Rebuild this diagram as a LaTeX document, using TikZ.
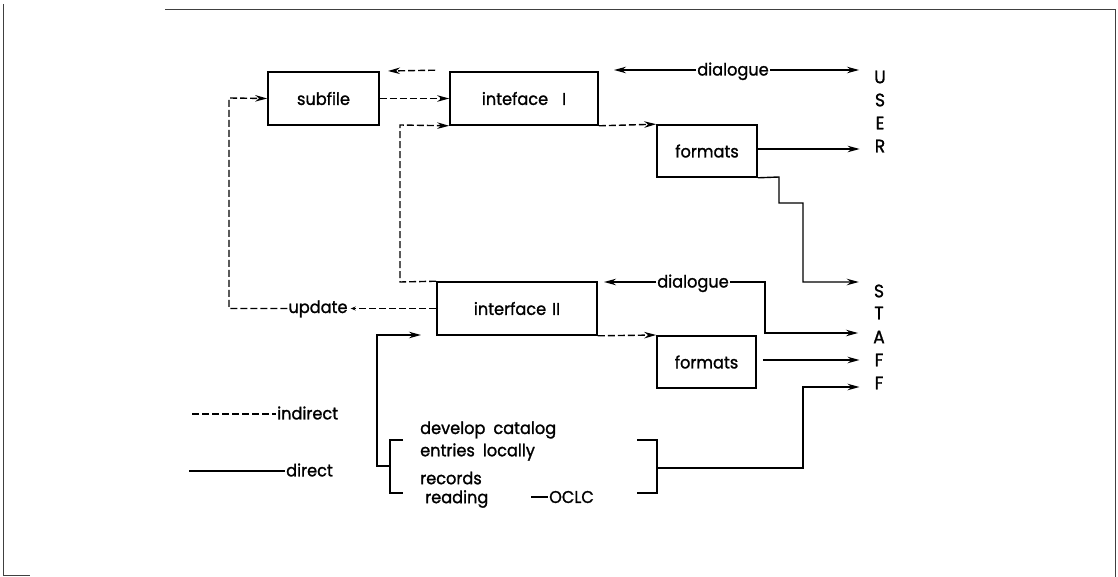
\documentclass[tikz,border=0pt]{standalone}
\usepackage{fontspec}
\setmainfont[FakeStretch=0.95,FakeBold=1.3]{Poppins}
\usetikzlibrary{arrows.meta}
\begin{document}
\begin{tikzpicture}[x=1pt,y=-1pt,
  font=\fontsize{17}{19}\selectfont,
  box/.style={draw,line width=1.6pt,minimum width=#1,minimum height=53pt,inner sep=0pt},
  lbl/.style={inner sep=1pt},
  letter/.style={inner sep=0pt,font=\fontsize{18}{19}\selectfont},
  dir/.style={line width=1.4pt},
  ind/.style={line width=1.4pt,dash pattern=on 7pt off 3pt},
  tip/.style={-{Stealth[length=12pt,width=6.5pt]}},
  frame/.style={line width=1pt,black!75}]
\useasboundingbox (0,0) rectangle (1118,577);
% frame
\draw[frame] (165,10) -- (1115,10) -- (1115,577);
\draw[frame] (3,4) -- (3,575) -- (30,575);
% boxes
\node[box=111pt] (subfile) at (323.5,98.5) {subfile};
\node[box=148pt] (ifI) at (524,98.5) {inteface\hspace{14pt}I};
\node[box=100pt,minimum height=52pt] (fmtA) at (707,151) {formats};
\node[box=160pt] (ifII) at (517,308.5) {interface\hspace{6pt}II};
\node[box=99pt,minimum height=52pt] (fmtB) at (706.5,362) {formats};
% USER / STAFF
\node[letter] (U) at (880,77) {U};
\node[letter] (S1) at (880,100) {S};
\node[letter] (E) at (880,123) {E};
\node[letter] (R) at (880,146) {R};
\node[letter] (S2) at (879,291) {S};
\node[letter] (T) at (879,313) {T};
\node[letter] (A) at (879,337) {A};
\node[letter] (F1) at (879,360) {F};
\node[letter] (F2) at (879,383) {F};
% dialogue labels
\node[lbl,anchor=base] (dlgA) at (733,75.5) {dialogue};
\node[lbl,anchor=base] (dlgB) at (693,287.5) {dialogue};
\node[lbl,anchor=base] (upd) at (318,313) {update};
% bracket text
\node[lbl,anchor=west] (dev) at (419,430) {develop\hspace{8pt}catalog};
\node[lbl,anchor=west] (ent) at (419,452) {entries\hspace{8pt}locally};
\node[lbl,anchor=west] (rec) at (419,478) {records};
\node[lbl,anchor=west] (rea) at (424,499) {reading};
\node[lbl,anchor=west] (oclc) at (548,497) {OCLC};
\coordinate (dashL) at (531,497);
\draw[dir] (dashL) -- (oclc.west);
% brackets
\coordinate (lbT) at (403,440);
\coordinate (lbB) at (403,493);
\coordinate (lbM) at (390,466);
\draw[dir] (lbT) -- (390,440) -- (390,493) -- (lbB);
\coordinate (rbT) at (637,440);
\coordinate (rbB) at (637,493);
\coordinate (rbM) at (657,468);
\draw[dir] (rbT) -- (657,440) -- (657,493) -- (rbB);
% legend
\coordinate (legI) at (192,414);
\node[lbl,anchor=west] (indl) at (276,413) {indirect};
\draw[ind] (legI) -- (indl.west |- legI);
\coordinate (legD) at (189,471);
\node[lbl,anchor=west] (dirl) at (285,470) {direct};
\draw[dir] (legD) -- (dirl.west |- legD);
% free ends
\coordinate (dA) at (614,70);
\coordinate (dB) at (604,282);
\coordinate (upI) at (388,71);
\coordinate (toII) at (421,335);
% direct connectors
\draw[dir,tip] (dlgA.west |- 0,70) -- (dA);
\draw[dir,tip] (dlgA.east |- 0,70) -- ([xshift=-15pt]U.west |- 0,70);
\draw[dir,tip] (fmtA.east |- 0,149) -- ([xshift=-15pt]R.west |- 0,149);
\draw[dir,tip] (fmtA.south east) -- (779,177) -- (779,203) -- (803,203) -- (803,282) -- ([xshift=-15pt]S2.west |- 0,282);
\draw[dir,tip] (dlgB.west |- 0,282) -- (dB);
\draw[dir,tip] (dlgB.east |- 0,282) -- (765,282) -- (765,333) -- ([xshift=-15pt]A.west |- 0,333);
\draw[dir,tip] ([xshift=6pt]fmtB.east |- 0,360) -- ([xshift=-15pt]F1.west |- 0,360);
\draw[dir,tip] (rbM) -- (803,468) -- (803,387) -- ([xshift=-15pt]F2.west |- 0,387);
\draw[dir,tip] (lbM) -- (377,466) -- (377,335) -- (toII);
% indirect connectors
\draw[ind,tip] ([xshift=-14pt]ifI.north west) ++(0,-1) coordinate (upS) -- (upI);
\draw[ind,tip] (subfile.east) -- (ifI.west);
\draw[ind,tip] (ifII.north west) -- (400,282) -- (400,125) -- (ifI.south west);
\draw[ind,tip] (ifI.south east) -- (fmtA.north west);
\draw[ind,tip] (ifII.south east) -- (fmtB.north west |- 0,335);
\draw[ind,-{Stealth[length=5pt,width=4pt]}] (ifII.west) -- ([xshift=2pt]upd.east |- ifII.west);
\draw[ind,tip] (upd.west |- ifII.west) -- (229,308.5) -- (229,98) -- (subfile.west);
\end{tikzpicture}
\end{document}
